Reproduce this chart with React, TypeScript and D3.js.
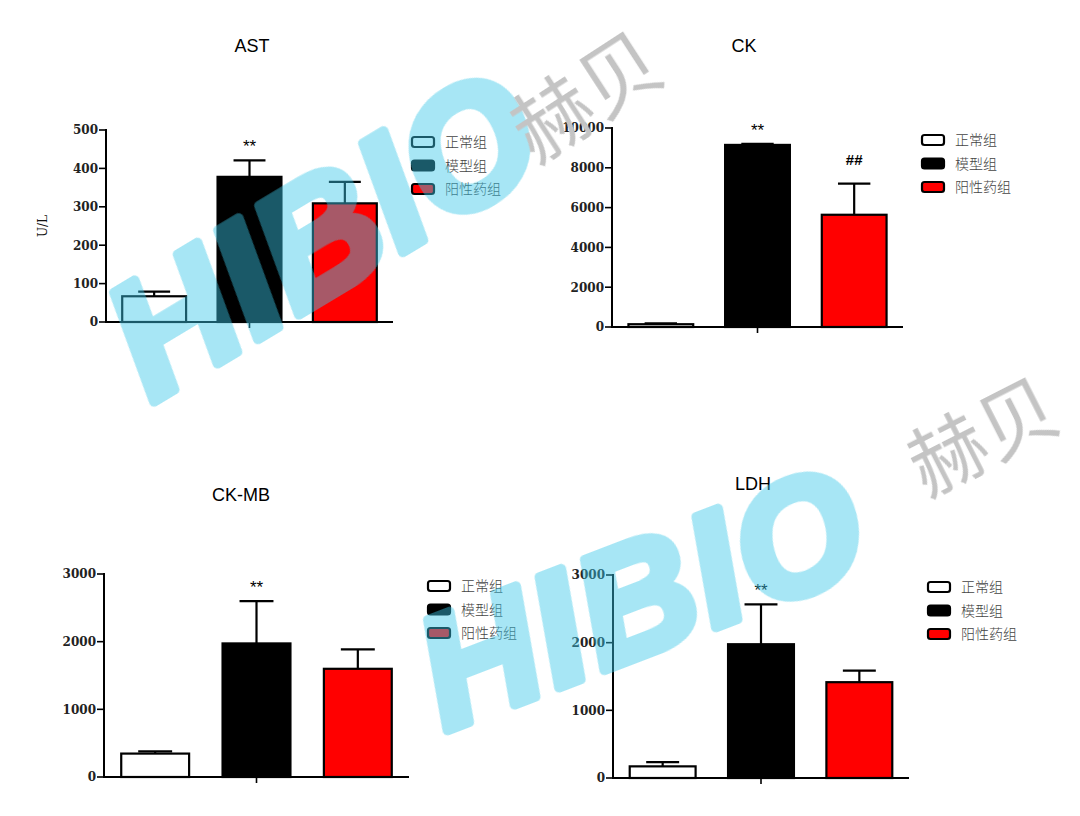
import React from 'react';
import * as d3 from 'd3';

// Groups shown in every panel
const groups = ['正常组', '模型组', '阳性药组'];
const groupFill = ['#ffffff', '#000000', '#ff0000'];

// AST (U/L)
const astMean = [67, 378, 309];
const astErr = [12, 43, 56];
const astTicks = [0, 100, 200, 300, 400, 500];
const astMarks = ['', '**', ''];

// CK
const ckMean = [140, 9150, 5640];
const ckErr = [40, 50, 1560];
const ckTicks = [0, 2000, 4000, 6000, 8000, 10000];
const ckMarks = ['', '**', '##'];

// CK-MB
const ckmbMean = [346, 1974, 1599];
const ckmbErr = [34, 626, 287];
const ckmbTicks = [0, 1000, 2000, 3000];
const ckmbMarks = ['', '**', ''];

// LDH
const ldhMean = [172, 1977, 1416];
const ldhErr = [64, 590, 172];
const ldhTicks = [0, 1000, 2000, 3000];
const ldhMarks = ['', '**', ''];

type PanelSpec = {
  title: string;
  mean: number[];
  err: number[];
  ticks: number[];
  marks: string[];
  yLabel?: string;
  frame: { left: number; right: number; top: number; bottom: number };
  titleAt: [number, number];
};

const panels: PanelSpec[] = [
  { title: 'AST', mean: astMean, err: astErr, ticks: astTicks, marks: astMarks, yLabel: 'U/L',
    frame: { left: 106, right: 393, top: 130, bottom: 322 }, titleAt: [252, 45] },
  { title: 'CK', mean: ckMean, err: ckErr, ticks: ckTicks, marks: ckMarks,
    frame: { left: 612, right: 903, top: 128, bottom: 327 }, titleAt: [744, 45] },
  { title: 'CK-MB', mean: ckmbMean, err: ckmbErr, ticks: ckmbTicks, marks: ckmbMarks,
    frame: { left: 104, right: 409, top: 574, bottom: 777 }, titleAt: [241, 494] },
  { title: 'LDH', mean: ldhMean, err: ldhErr, ticks: ldhTicks, marks: ldhMarks,
    frame: { left: 613, right: 909, top: 575, bottom: 778 }, titleAt: [753, 483] },
];

const serif = '"DejaVu Serif", "Liberation Serif", serif';
const sans = '"Liberation Sans", Arial, sans-serif';
const cjk = '"Noto Sans CJK SC", sans-serif';

function Panel({ p }: { p: PanelSpec }) {
  const { left, right, top, bottom } = p.frame;
  const x = d3.scaleBand<string>().domain(groups).range([left, right]).paddingInner(0.33).paddingOuter(0.17);
  const yMax = p.ticks[p.ticks.length - 1];
  const y = d3.scaleLinear().domain([0, yMax]).range([bottom, top]);
  const bw = x.bandwidth();
  const mid = (x(groups[1]) as number) + bw / 2;

  return (
    <g>
      <text x={p.titleAt[0]} y={p.titleAt[1] + 6.5} textAnchor="middle" fontFamily={sans} fontSize={18} fill="#000">
        {p.title}
      </text>

      {/* bars */}
      {groups.map((g, i) => {
        const x0 = x(g) as number;
        return (
          <rect key={g} x={x0} y={y(p.mean[i])} width={bw} height={bottom - y(p.mean[i])}
            fill={groupFill[i]} stroke="#000" strokeWidth={2.2} />
        );
      })}

      {/* upper error bars */}
      {groups.map((g, i) => {
        const cx = (x(g) as number) + bw / 2;
        const yt = y(p.mean[i] + p.err[i]);
        return (
          <g key={g} stroke="#000" strokeWidth={2.2}>
            <line x1={cx} x2={cx} y1={y(p.mean[i])} y2={yt} />
            <line x1={cx - bw / 4} x2={cx + bw / 4} y1={yt} y2={yt} />
          </g>
        );
      })}

      {/* significance marks */}
      {groups.map((g, i) => {
        const m = p.marks[i];
        if (!m) return null;
        const cx = (x(g) as number) + bw / 2;
        const yt = y(p.mean[i] + p.err[i]);
        const isStar = m.includes('*');
        return (
          <text key={g} x={cx} y={isStar ? yt - 18 + 10 : yt - 24 + 5.5} textAnchor="middle"
            fontFamily={sans} fontSize={isStar ? 17 : 15} fontWeight={isStar ? 'normal' : 'bold'} fill="#000">
            {m}
          </text>
        );
      })}

      {/* y axis */}
      <line x1={left} x2={left} y1={top - 1} y2={bottom + 1} stroke="#000" strokeWidth={2} />
      {p.ticks.map((t) => (
        <g key={t}>
          <line x1={left - 7} x2={left} y1={y(t)} y2={y(t)} stroke="#000" strokeWidth={1.6} />
          <text x={left - 8} y={y(t)} dy="0.36em" textAnchor="end" fontFamily={serif} fontSize={12}
            fontWeight="bold" fill="#222">
            {t}
          </text>
        </g>
      ))}
      {p.yLabel && (
        <text transform={`translate(${left - 63},${(top + bottom) / 2}) rotate(-90)`} textAnchor="middle"
          dy="0.35em" fontFamily={serif} fontSize={12} fill="#111">
          {p.yLabel}
        </text>
      )}

      {/* x axis */}
      <line x1={left - 1} x2={right} y1={bottom} y2={bottom} stroke="#000" strokeWidth={2} />
      <line x1={mid} x2={mid} y1={bottom} y2={bottom + 6} stroke="#000" strokeWidth={1.6} />

      {/* legend */}
      {groups.map((g, i) => {
        const ly = top + 12 + i * 23.5;
        return (
          <g key={g}>
            <rect x={right + 19} y={ly - 5} width={22} height={10} rx={2.5} fill={groupFill[i]}
              stroke="#000" strokeWidth={2.2} />
            <text x={right + 52} y={ly} dy="0.36em" fontFamily={cjk} fontSize={14} fontWeight={300} fill="#444">
              {g}
            </text>
          </g>
        );
      })}
    </g>
  );
}

export default function App() {
  return (
    <svg width={1080} height={816} viewBox="0 0 1080 816"
      style={{ position: 'absolute', left: 0, top: 0, background: '#fff' }}>
      <rect width={1080} height={816} fill="#fff" />
      {panels.map((p) => (
        <Panel key={p.title} p={p} />
      ))}

      {/* watermarks */}
      <g opacity={0.45} fill="rgb(60,200,232)" stroke="rgb(60,200,232)" strokeWidth={10} strokeLinejoin="round"
        fontFamily={sans} fontWeight="bold" fontStyle="italic">
        <text transform="translate(322,232) rotate(-31)" textAnchor="middle" dy="0.36em" fontSize={165} letterSpacing={2}>
          HIBIO
        </text>
        <text transform="translate(641,594) rotate(-21)" textAnchor="middle" dy="0.36em" fontSize={160} letterSpacing={4}>
          HIBIO
        </text>
      </g>
      <g fill="#c4c4c4" fontFamily={cjk} fontWeight={400}>
        <text transform="translate(586,96) rotate(-33)" textAnchor="middle" dy="0.36em" fontSize={80}>
          赫贝
        </text>
        <text transform="translate(983,437) rotate(-27)" textAnchor="middle" dy="0.36em" fontSize={78}>
          赫贝
        </text>
      </g>
    </svg>
  );
}
